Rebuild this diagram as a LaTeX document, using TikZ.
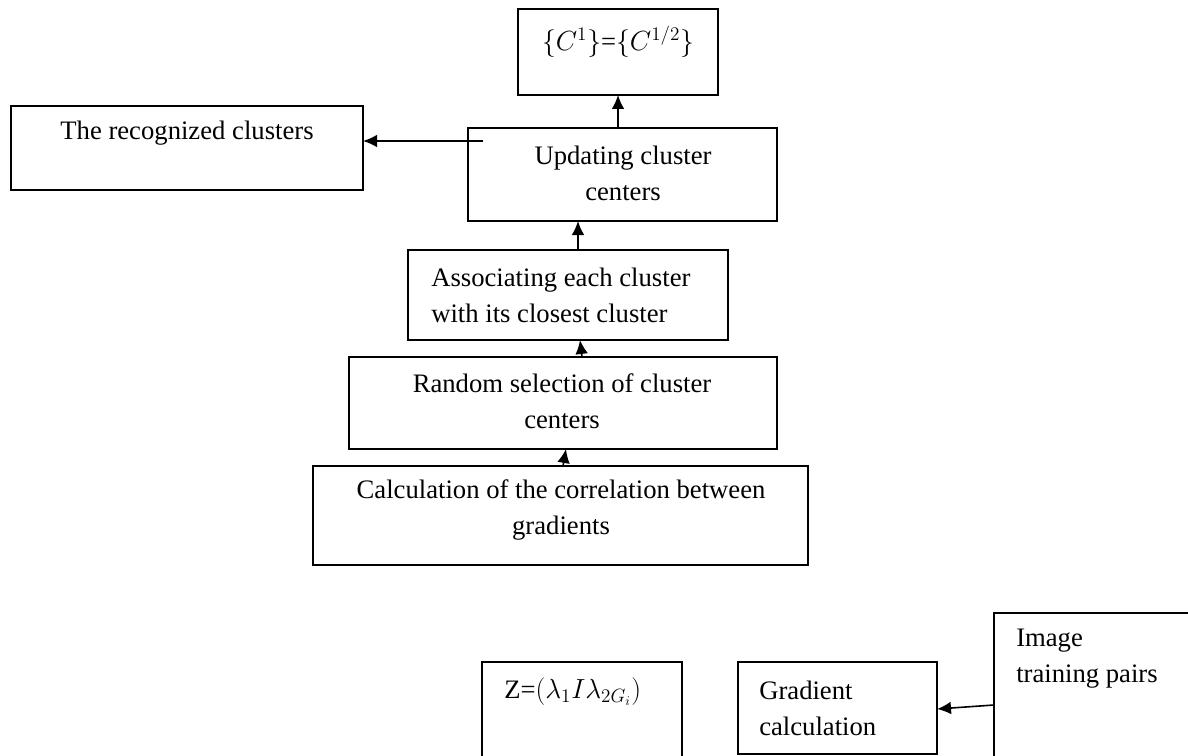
\documentclass[tikz,border=0pt]{standalone}
\usepackage{fontspec}
\setmainfont{Liberation Serif}
\usetikzlibrary{arrows.meta}
\begin{document}
\begin{tikzpicture}[x=0.75pt,y=-0.75pt,
  box/.style={draw, line width=1.2pt, inner sep=0pt, outer sep=0pt},
  txt/.style={inner sep=0pt, font=\fontsize{20}{27}\selectfont},
  arr/.style={line width=1.2pt, -{Latex[length=10.5pt,width=9.5pt]}}]
\useasboundingbox (0,0) rectangle (1188,756);
\clip (0,0) rectangle (1188,756);
% boxes
\node[box, minimum width=150pt, minimum height=64.5pt] (C) at (618,52) {};
\node[box, minimum width=264pt, minimum height=63pt] (rec) at (187,148) {};
\node[box, minimum width=231.75pt, minimum height=69.75pt] (upd) at (622.5,174.5) {};
\node[box, minimum width=240pt, minimum height=67.5pt] (assoc) at (568,295) {};
\node[box, minimum width=321pt, minimum height=69pt] (rand) at (563,403) {};
\node[box, minimum width=371.25pt, minimum height=74.25pt] (calc) at (560.5,515.5) {};
\node[box, minimum width=150pt, minimum height=103.5pt] (Z) at (582,731) {};
\node[box, minimum width=149.25pt, minimum height=69pt] (grad) at (837.5,708) {};
\node[box, minimum width=154.5pt, minimum height=140.25pt] (img) at (1097,706.5) {};
% texts
\node[txt] (tC) at (618,42) {$\{C^1\}$=$\bigl\{C^{1/2}\bigr\}$};
\node[txt] (trec) at (187,133) {The recognized clusters};
\node[txt, align=center] (tupd) at (623,173) {Updating cluster\\centers};
\node[txt, align=left, anchor=west] (tassoc) at (431,295) {Associating each cluster\\with its closest cluster};
\node[txt, align=center] (trand) at (562,401) {Random selection of cluster\\centers};
\node[txt, align=center] (tcalc) at (561,510) {Calculation of the correlation between\\gradients};
\node[txt, anchor=west] (tZ) at (504,692) {Z=$(\lambda_1 I\lambda_{2G_i})$};
\node[txt, align=left, anchor=west] (tgrad) at (759,708) {Gradient\\calculation};
\node[txt, align=left, anchor=west] (timg) at (1016,659) {Image\\training pairs};
% connectors
\coordinate (s1) at (483,141);
\draw[arr] (upd.north -| 618,0) -- (C.south -| 618,0);
\draw[arr] (s1) -- (rec.east |- s1);
\draw[arr] (assoc.north -| 578,0) -- (upd.south -| 578,0);
\draw[arr] (rand.north -| 582,0) -- (assoc.south -| 580,0);
\draw[arr] (calc.north -| 563,0) -- (rand.south -| 566,0);
\draw[arr] (img.west |- 0,705) -- (grad.east |- 0,709);
\end{tikzpicture}
\end{document}
